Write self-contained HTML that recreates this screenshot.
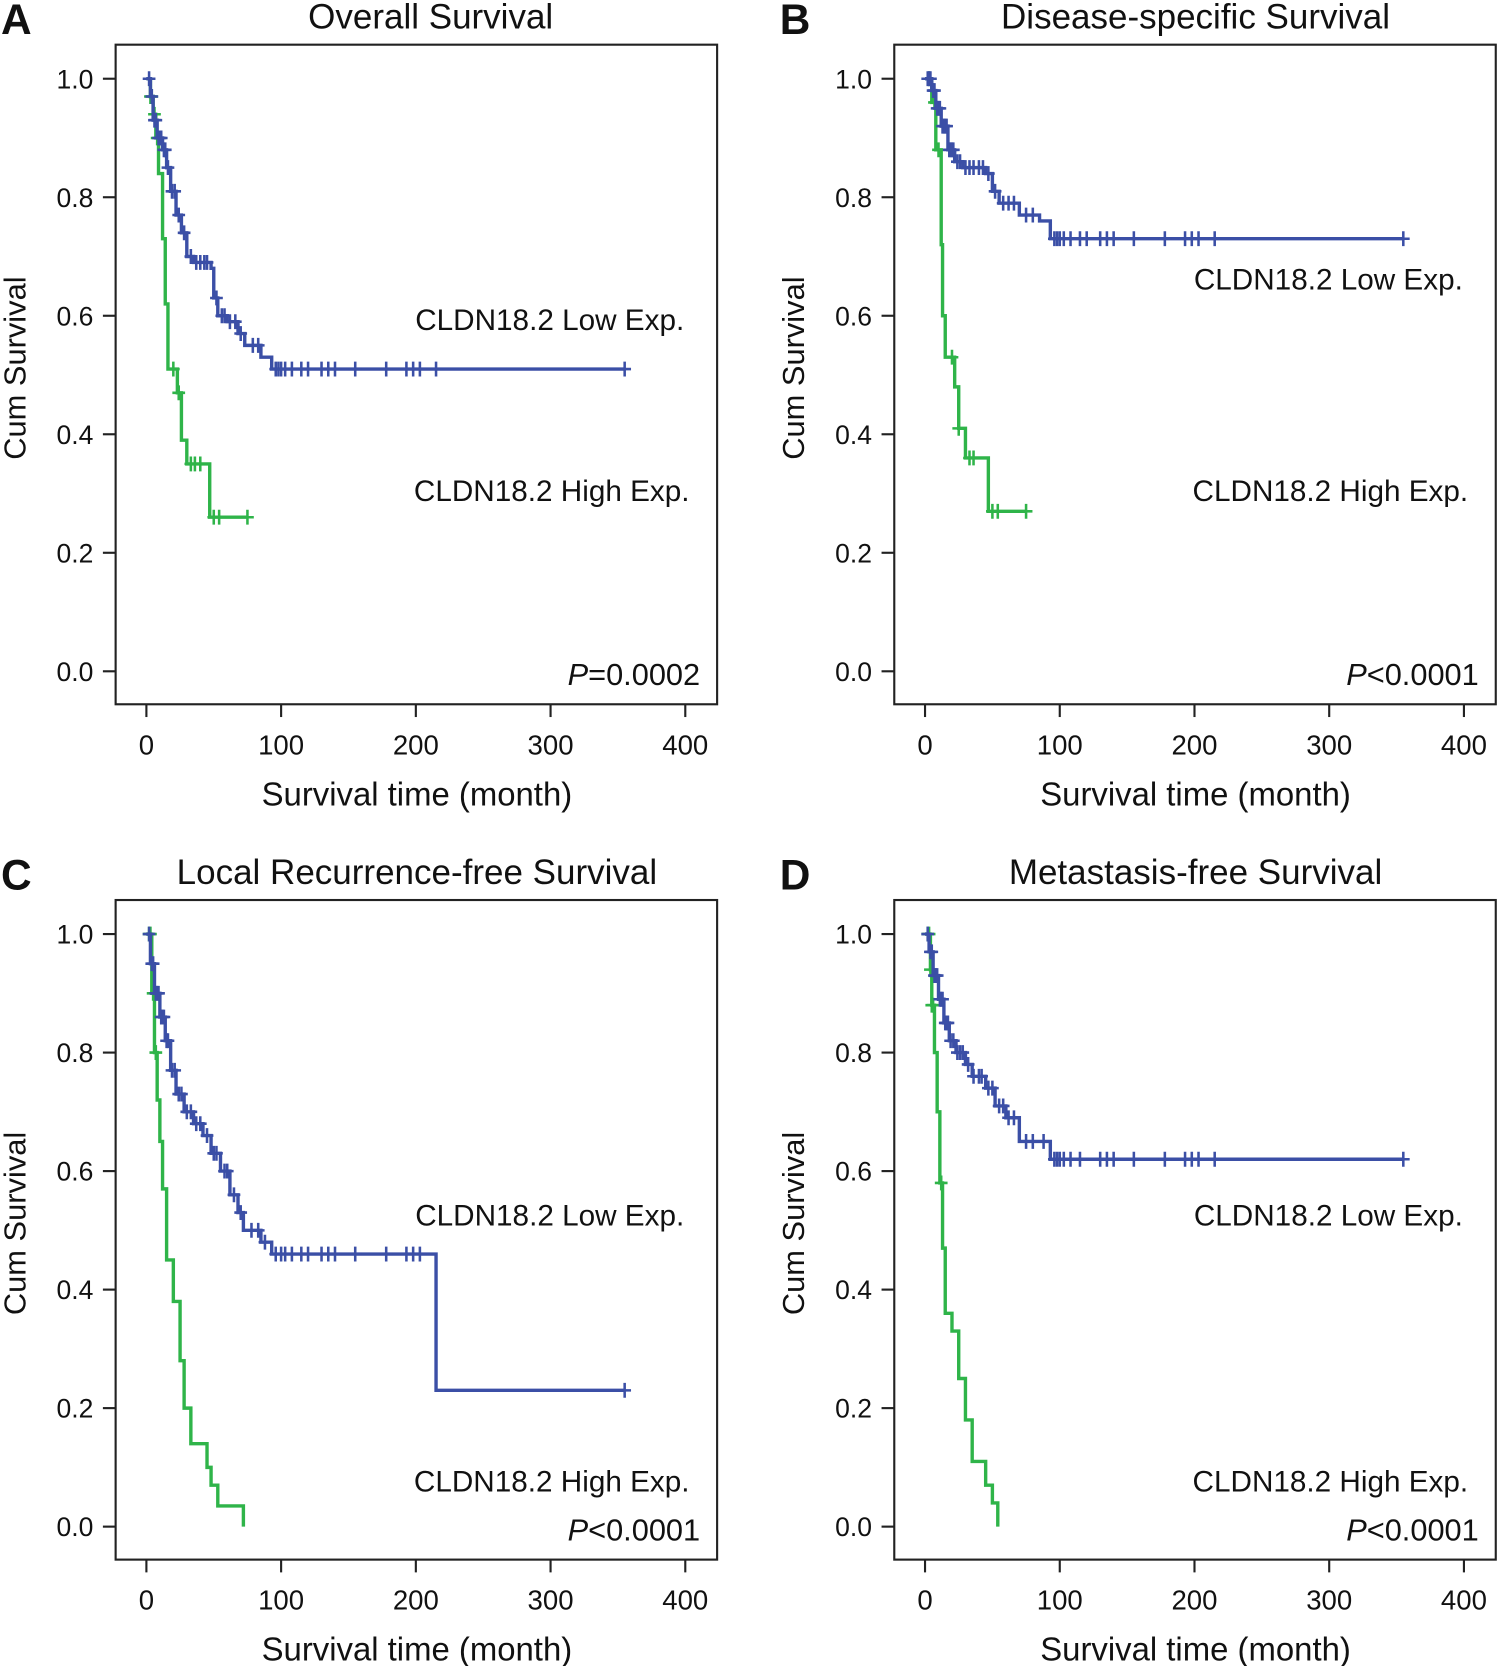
<!DOCTYPE html>
<html><head><meta charset="utf-8"><style>
html,body{margin:0;padding:0;background:#fff;}
svg{display:block;}
text{font-family:"Liberation Sans",sans-serif;fill:#111;}
</style></head><body>
<svg id="fig" width="1500" height="1666" viewBox="0 0 1414 1566" preserveAspectRatio="none" xmlns="http://www.w3.org/2000/svg"></svg>
<script>
const xTicks = [0,100,200,300,400];
const yTicks = [0.0,0.2,0.4,0.6,0.8,1.0];
const yTickLabels = ["0.0","0.2","0.4","0.6","0.8","1.0"];
const panelTitles = ["Overall Survival","Disease-specific Survival","Local Recurrence-free Survival","Metastasis-free Survival"];
const panelLetters = ["A","B","C","D"];
const pValues = ["=0.0002","<0.0001","<0.0001","<0.0001"];

// Step curves: [time, survival after step]
const lowA = [[0,1],[3,0.97],[5,0.93],[8,0.9],[12,0.88],[15,0.85],[18,0.81],[22,0.77],[26,0.74],[30,0.7],[35,0.69],[48,0.68],[50,0.63],[53,0.6],[60,0.59],[68,0.57],[73,0.55],[85,0.53],[93,0.51],[355,0.51]];
const lowACens = [2,4,6,7,9,10,11,13,14,16,19,21,24,28,33,37,40,43,45,52,56,58,62,66,70,79,83,96,98,100,103,108,115,120,130,135,140,155,178,193,198,203,215,355];
const highA = [[0,1],[3,0.97],[5,0.94],[7,0.9],[9,0.84],[12,0.73],[14,0.62],[16,0.51],[23,0.47],[26,0.39],[30,0.35],[47,0.26],[75,0.26]];
const highACens = [3,4,6,8,20,24,33,36,40,50,54,75];

const lowB = [[0,1],[5,0.98],[8,0.95],[12,0.92],[17,0.88],[22,0.86],[28,0.85],[45,0.84],[50,0.81],[55,0.79],[70,0.77],[85,0.76],[93,0.73],[355,0.73]];
const lowBCens = [2,3,4,6,7,9,10,11,13,14,15,16,18,19,20,21,24,26,30,33,36,40,43,47,52,58,62,66,75,80,96,98,100,103,108,115,120,130,135,140,155,178,193,198,203,215,355];
const highB = [[0,1],[5,0.96],[8,0.88],[12,0.72],[13,0.6],[15,0.53],[22,0.48],[25,0.41],[30,0.36],[47,0.27],[75,0.27]];
const highBCens = [3,7,10,20,25,33,36,50,54,75];

const lowC = [[0,1],[3,0.95],[6,0.9],[10,0.86],[14,0.82],[18,0.77],[22,0.73],[28,0.7],[35,0.68],[42,0.66],[48,0.63],[55,0.6],[62,0.56],[68,0.53],[72,0.5],[85,0.48],[93,0.46],[215,0.23],[355,0.23]];
const lowCCens = [2,4,5,7,8,9,11,12,13,15,16,19,21,24,26,30,33,37,40,45,50,52,58,60,65,70,78,83,88,96,100,103,108,115,120,130,135,140,155,178,193,198,203,355];
const highC = [[0,1],[4,0.9],[6,0.8],[8,0.72],[10,0.65],[12,0.57],[15,0.45],[20,0.38],[25,0.28],[28,0.2],[33,0.14],[45,0.1],[48,0.07],[53,0.035],[72,0.035],[72,0]];
const highCCens = [2,3,5,7];

const lowD = [[0,1],[3,0.97],[6,0.93],[10,0.89],[14,0.85],[18,0.82],[23,0.8],[30,0.78],[35,0.76],[45,0.74],[52,0.71],[60,0.69],[70,0.65],[93,0.62],[355,0.62]];
const lowDCens = [2,4,5,7,8,9,11,12,13,15,16,17,19,21,24,26,28,32,36,40,42,47,50,55,58,62,66,75,80,88,96,98,100,103,108,115,130,135,140,155,178,193,198,203,215,355];
const highD = [[0,1],[4,0.94],[5,0.88],[7,0.8],[9,0.7],[11,0.58],[13,0.47],[15,0.36],[20,0.33],[25,0.25],[30,0.18],[35,0.11],[45,0.07],[50,0.04],[54,0.04],[54,0]];
const highDCens = [2,3,4,5,6,12];

const lowSeries = [lowA,lowB,lowC,lowD];
const lowCensors = [lowACens,lowBCens,lowCCens,lowDCens];
const highSeries = [highA,highB,highC,highD];
const highCensors = [highACens,highBCens,highCCens,highDCens];

const NS="http://www.w3.org/2000/svg";
const svg=document.getElementById('fig');
function mk(tag,attrs,parent){const e=document.createElementNS(NS,tag);for(const k in attrs)e.setAttribute(k,attrs[k]);(parent||svg).appendChild(e);return e;}
const panels=[{x0:109,y0:42,tc:297},{x0:843,y0:42,tc:284},{x0:109,y0:846,tc:284},{x0:843,y0:846,tc:284}];
const BLUE="#3b4fa6", GREEN="#2fb449";
function survAt(series,t){let s=series[0][1];for(const p of series){if(p[0]<=t)s=p[1];}return s;}

panels.forEach((P,i)=>{
  const g=mk('g',{});
  
  
  const bx=P.x0, by=P.y0, bw=567, bh=620;
  const xS=t=>bx+29+t*1.27;
  const yS=v=>by+589-v*557;
  const box=mk('rect',{x:bx,y:by,width:bw,height:bh,fill:'none',stroke:'#222','stroke-width':2},g);
  
  xTicks.forEach(t=>{
    mk('line',{x1:xS(t),x2:xS(t),y1:by+bh,y2:by+bh+12,stroke:'#222','stroke-width':2},g);
    const tx=mk('text',{x:xS(t),y:by+bh+47,'font-size':26,'text-anchor':'middle'},g);
    
    tx.textContent=t;
  });
  yTicks.forEach((v,k)=>{
    mk('line',{x1:bx-12,x2:bx,y1:yS(v),y2:yS(v),stroke:'#222','stroke-width':2},g);
    const tx=mk('text',{x:bx-21,y:yS(v)+9,'font-size':25,'text-anchor':'end'},g);
    
    tx.textContent=yTickLabels[k];
  });
  const yt=mk('text',{x:0,y:0,'font-size':29,'text-anchor':'middle',transform:`translate(${bx-85},${by+304}) rotate(-90)`},g);
  yt.textContent='Cum Survival';
  const xt=mk('text',{x:bx+284,y:by+bh+95,'font-size':31,'text-anchor':'middle'},g);
  xt.textContent='Survival time (month)';
  const ti=mk('text',{x:bx+P.tc,y:by-15,'font-size':33,'text-anchor':'middle'},g);
  ti.textContent=panelTitles[i];
  const le=mk('text',{x:bx-108,y:by-10,'font-size':40,'font-weight':'bold'},g);
  le.textContent=panelLetters[i];

  [[highSeries[i],highCensors[i],GREEN,'high'],[lowSeries[i],lowCensors[i],BLUE,'low']].forEach(([s,c,col,nm])=>{
    let d=`M${xS(s[0][0])},${yS(s[0][1])}`;
    for(let k=1;k<s.length;k++){d+=` H${xS(s[k][0])} V${yS(s[k][1])}`;}
    const p=mk('path',{d:d,fill:'none',stroke:col,'stroke-width':3.2},g);
    
    c.forEach(t=>{
      const x=xS(t), y=yS(survAt(s,t));
      const m=mk('path',{d:`M${x-6},${y} H${x+6} M${x},${y-7} V${y+7}`,stroke:col,'stroke-width':2.4},g);
      
    });
  });
  const ly=[by+258,by+220,by+296,by+296][i];
  const hy=[by+419,by+419,by+546,by+546][i];
  const l1=mk('text',{x:bx+536,y:ly+10,'font-size':28,'text-anchor':'end'},g);
  l1.textContent='CLDN18.2 Low Exp.';
  const l2=mk('text',{x:bx+541,y:hy+10,'font-size':28,'text-anchor':'end'},g);
  l2.textContent='CLDN18.2 High Exp.';
  const pv=mk('text',{x:bx+551,y:by+602,'font-size':29,'text-anchor':'end'},g);
  
  const ts=mk('tspan',{'font-style':'italic'},pv);ts.textContent='P';
  const ts2=mk('tspan',{},pv);ts2.textContent=pValues[i];
});
</script>
</body></html>
